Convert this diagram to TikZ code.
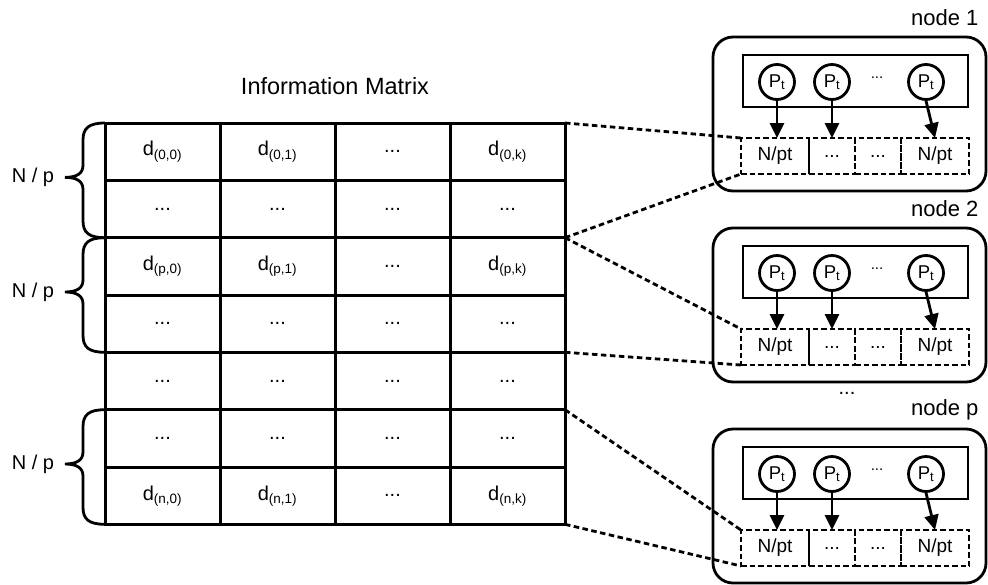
\documentclass[tikz,border=0pt]{standalone}
\usepackage{fontspec}
\setmainfont{Liberation Sans}
\usetikzlibrary{arrows.meta}
\begin{document}
\begin{tikzpicture}[x=1pt,y=-1pt,
  grid/.style={line width=3pt},
  cell/.style={inner sep=0pt,font=\fontsize{20}{22}\selectfont},
  bracepath/.style={line width=2.8pt},
  lbl/.style={font=\fontsize{20}{22}\selectfont},
  nodebox/.style={draw,line width=2.8pt,rounded corners=20pt},
  procbox/.style={draw,line width=2.8pt},
  proc/.style={draw,circle,line width=2.8pt,minimum size=35pt,inner sep=0pt,fill=white,font=\fontsize{18.5}{20}\selectfont},
  buf/.style={draw,dashed,dash pattern=on 5.5pt off 3pt,line width=2.6pt,minimum width=68pt,minimum height=36pt,inner sep=0pt,outer sep=0pt,font=\fontsize{19}{21}\selectfont},
  bufs/.style={buf,minimum width=46pt},
  link/.style={dashed,dash pattern=on 5.5pt off 3.5pt,line width=2.8pt},
  arr/.style={line width=2.8pt,-{Triangle[length=15pt,width=14pt]}}
]
\useasboundingbox (0,0) rectangle (988,584);
% title
\node[font=\fontsize{23.5}{26}\selectfont] (title) at (335,86) {Information Matrix};
% grid
\foreach \y in {123,180.3,237.7,295,352.3,409.7,467,524.3}
  \draw[grid] (103.5,\y) -- (566.5,\y);
\foreach \x in {105,220,335,450,565}
  \draw[grid] (\x,123) -- (\x,524.3);
% matrix corner coordinates
\coordinate (m0) at (565,123);
\coordinate (m1) at (565,237.7);
\coordinate (m2) at (565,352.3);
\coordinate (m3) at (565,409.7);
\coordinate (m4) at (565,524.3);
% cell texts
\newcommand{\dsub}[1]{d\textsubscript{\fontsize{13.5}{14}\selectfont(#1)}}
\node[cell] (c00) at (162.5,151.7) {\dsub{0,0}};
\node[cell] (c01) at (277.5,151.7) {\dsub{0,1}};
\node[cell] (c02) at (392.5,151.7) {...};
\node[cell] (c03) at (507.5,151.7) {\dsub{0,k}};
\node[cell] (c10) at (162.5,209) {...};
\node[cell] (c11) at (277.5,209) {...};
\node[cell] (c12) at (392.5,209) {...};
\node[cell] (c13) at (507.5,209) {...};
\node[cell] (c20) at (162.5,266.3) {\dsub{p,0}};
\node[cell] (c21) at (277.5,266.3) {\dsub{p,1}};
\node[cell] (c22) at (392.5,266.3) {...};
\node[cell] (c23) at (507.5,266.3) {\dsub{p,k}};
\node[cell] (c30) at (162.5,323.7) {...};
\node[cell] (c31) at (277.5,323.7) {...};
\node[cell] (c32) at (392.5,323.7) {...};
\node[cell] (c33) at (507.5,323.7) {...};
\node[cell] (c40) at (162.5,381) {...};
\node[cell] (c41) at (277.5,381) {...};
\node[cell] (c42) at (392.5,381) {...};
\node[cell] (c43) at (507.5,381) {...};
\node[cell] (c50) at (162.5,438.3) {...};
\node[cell] (c51) at (277.5,438.3) {...};
\node[cell] (c52) at (392.5,438.3) {...};
\node[cell] (c53) at (507.5,438.3) {...};
\node[cell] (c60) at (162.5,495.7) {\dsub{n,0}};
\node[cell] (c61) at (277.5,495.7) {\dsub{n,1}};
\node[cell] (c62) at (392.5,495.7) {...};
\node[cell] (c63) at (507.5,495.7) {\dsub{n,k}};
% braces
\foreach \t/\b/\n in {123/237.7/1,237.7/352.3/2,409.7/524.3/3}{
  \pgfmathsetmacro{\m}{(\t+\b)/2-3}
  \draw[bracepath] (105,\t) .. controls (89,\t) and (83,\t+5) .. (83,\t+17)
     -- (83,\m-12) .. controls (83,\m-4) and (77,\m) .. (65,\m)
     .. controls (77,\m) and (83,\m+4) .. (83,\m+12)
     -- (83,\b-17) .. controls (83,\b-5) and (89,\b) .. (105,\b);
  \node[lbl] (np\n) at (33,\m) {N / p};
}
% compute nodes
\foreach \off/\name/\lab in {0/a/node 1,191/b/node 2,392/c/node p}{
  \node[lbl,anchor=east,font=\fontsize{22}{24}\selectfont] (\name lab) at (982,18+\off) {\lab};
  \draw[nodebox] (713,37+\off) rectangle (986,191+\off);
  \draw[procbox] (743,55+\off) rectangle (968,107+\off);
  \node[proc] (\name p1) at (777,82+\off) {P\textsubscript{t}};
  \node[proc] (\name p2) at (832,82+\off) {P\textsubscript{t}};
  \node[proc] (\name p3) at (926,82+\off) {P\textsubscript{t}};
  \node[font=\fontsize{15}{16}\selectfont] (\name pd) at (877,78+\off) {...};
  \node[buf]  (\name b1) at (775,156+\off) {N/pt};
  \node[bufs] (\name b2) at (832,156+\off) {...};
  \node[bufs] (\name b3) at (878,156+\off) {...};
  \node[buf]  (\name b4) at (935,156+\off) {N/pt};
  \draw[arr] (\name p1.south) -- (\name p1.south |- \name b1.north);
  \draw[arr] (\name p2.south) -- (\name p2.south |- \name b2.north);
  \draw[arr] (\name p3.south) -- (\name b4.north);
}
\node[font=\fontsize{20}{22}\selectfont] (vdots) at (847,393) {...};
% dashed links
\draw[link] (m0) -- (ab1.north west);
\draw[link] (m1) -- (ab1.south west);
\draw[link] (m1) -- (bb1.north west);
\draw[link] (m2) -- (bb1.south west);
\draw[link] (m3) -- (cb1.north west);
\draw[link] (m4) -- (cb1.south west);
\end{tikzpicture}
\end{document}
